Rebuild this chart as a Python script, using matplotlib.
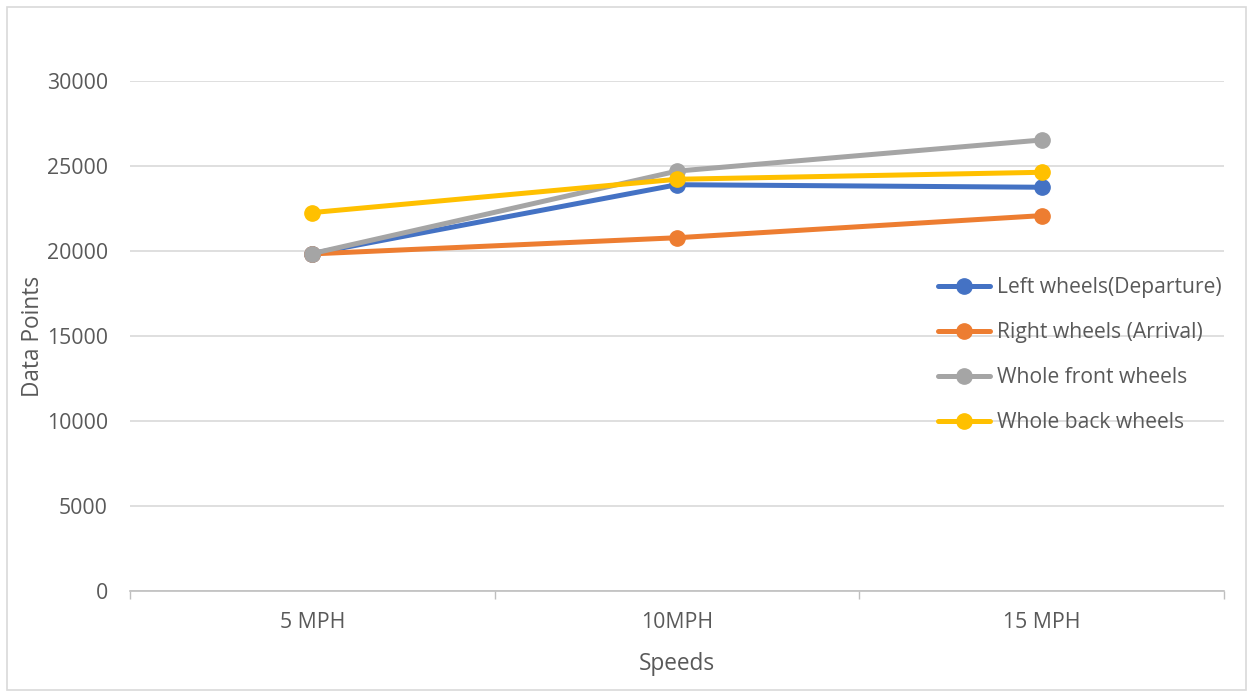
import matplotlib
matplotlib.use("Agg")
import matplotlib.pyplot as plt
from matplotlib.patches import Rectangle

categories = ["5 MPH", "10MPH", "15 MPH"]
series_names = ["Left wheels(Departure)", "Right wheels (Arrival)",
                "Whole front wheels", "Whole back wheels"]
left_wheels = [19850, 23900, 23750]
right_wheels = [19830, 20780, 22080]
front_wheels = [19850, 24700, 26530]
back_wheels = [22260, 24220, 24630]
colors = ["#4472C4", "#ED7D31", "#A5A5A5", "#FFC000"]
yticks = [0, 5000, 10000, 15000, 20000, 25000, 30000]

plt.rcParams['font.family'] = ['Open Sans', 'DejaVu Sans']
txt = "#595959"
W, H = 1253, 697
fig = plt.figure(figsize=(W / 100, H / 100), dpi=100)
fig.patches.append(Rectangle((7 / W, 7 / H), 1 - 14 / W, 1 - 14 / H,
                             transform=fig.transFigure, fill=False,
                             edgecolor="#D9D9D9", linewidth=1.2))
ax = fig.add_axes([130 / W, (H - 591) / H, (1224 - 130) / W, (591 - 81) / H])

x = list(range(len(categories)))
for vals, name, c in zip([left_wheels, right_wheels, front_wheels, back_wheels],
                         series_names, colors):
    ax.plot(x, vals, color=c, linewidth=3.6, marker="o", markersize=11,
            label=name, solid_capstyle="round")

ax.set_xlim(-0.5, 2.5)
ax.set_ylim(0, 30000)
ax.set_yticks(yticks)
ax.set_yticklabels([str(v) for v in yticks])
ax.set_xticks(x)
ax.set_xticklabels(categories)
ax.set_xticks([-0.5, 0.5, 1.5, 2.5], minor=True)
ax.tick_params(axis="x", which="major", length=0, pad=15, labelsize=15.3, colors=txt)
ax.tick_params(axis="x", which="minor", length=6, color="#BFBFBF", width=1)
ax.tick_params(axis="y", length=0, pad=16, labelsize=15.3, colors=txt)
ax.grid(axis="y", color="#D9D9D9", linewidth=1.2)
ax.set_axisbelow(True)
for s in ["top", "right", "left"]:
    ax.spines[s].set_visible(False)
ax.spines["bottom"].set_color("#BFBFBF")
ax.spines["bottom"].set_linewidth(1.2)

ax.set_ylabel("Data Points", fontsize=16.3, color=txt, labelpad=1.5)
ax.set_xlabel("Speeds", fontsize=16.3, color=txt, labelpad=14)

leg = ax.legend(loc="upper left", bbox_to_anchor=((930 - 130) / (1224 - 130), (591 - 269) / 510),
                frameon=False, fontsize=15.2, handlelength=2.46, handletextpad=0.33,
                labelspacing=1.13, borderaxespad=0)
for t in leg.get_texts():
    t.set_color(txt)

fig.savefig("out.png", dpi=100, facecolor="white")
